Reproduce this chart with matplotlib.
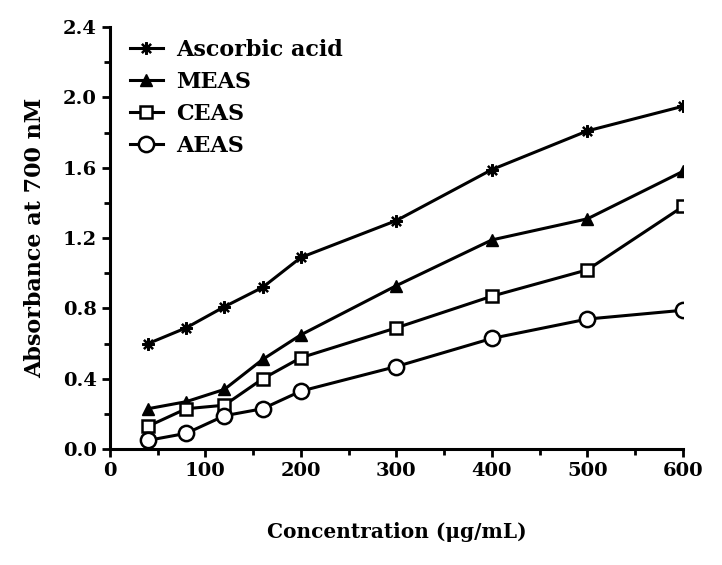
import matplotlib
matplotlib.use("Agg")
import matplotlib.pyplot as plt
from matplotlib.ticker import MultipleLocator

conc = [40, 80, 120, 160, 200, 300, 400, 500, 600]
ascorbic = [0.60, 0.69, 0.81, 0.92, 1.09, 1.30, 1.59, 1.81, 1.95]
meas = [0.23, 0.27, 0.34, 0.51, 0.65, 0.93, 1.19, 1.31, 1.58]
ceas = [0.13, 0.23, 0.25, 0.40, 0.52, 0.69, 0.87, 1.02, 1.38]
aeas = [0.05, 0.09, 0.19, 0.23, 0.33, 0.47, 0.63, 0.74, 0.79]

plt.rcParams['font.family'] = ['DejaVu Serif']
plt.rcParams['font.weight'] = 'bold'

fig = plt.figure(figsize=(7.22, 5.65), dpi=100)
ax = fig.add_axes([0.152, 0.205, 0.794, 0.747])

lw = 2.2
ax.plot(conc, ascorbic, color='black', lw=lw, marker=(8, 2, 0), ms=9, mew=1.6, label='Ascorbic acid')
ax.plot(conc, meas, color='black', lw=lw, marker='^', ms=9, label='MEAS')
ax.plot(conc, ceas, color='black', lw=lw, marker='s', ms=8, mfc='white', mew=1.8, label='CEAS')
ax.plot(conc, aeas, color='black', lw=lw, marker='o', ms=11, mfc='white', mew=1.8, label='AEAS')

ax.set_xlim(0, 600)
ax.set_ylim(0, 2.4)
ax.xaxis.set_major_locator(MultipleLocator(100))
ax.xaxis.set_minor_locator(MultipleLocator(50))
ax.yaxis.set_major_locator(MultipleLocator(0.4))
ax.yaxis.set_minor_locator(MultipleLocator(0.2))
ax.yaxis.set_major_formatter(matplotlib.ticker.FormatStrFormatter('%.1f'))

for s in ['top', 'right']:
    ax.spines[s].set_visible(False)
for s in ['left', 'bottom']:
    ax.spines[s].set_linewidth(2.2)
ax.tick_params(which='major', length=6, width=2, labelsize=14)
ax.tick_params(which='minor', length=4, width=2)
for lab in ax.get_xticklabels() + ax.get_yticklabels():
    lab.set_fontweight('bold')

ax.set_xlabel('Concentration (μg/mL)', fontsize=14.5, fontweight='bold', labelpad=30)
ax.set_ylabel('Absorbance at 700 nM', fontsize=16, fontweight='bold', labelpad=12)

leg = ax.legend(loc='upper left', bbox_to_anchor=(0.0, 1.02), frameon=False,
                handlelength=1.5, handletextpad=0.6, labelspacing=0.45,
                prop={'weight': 'bold', 'size': 16})

fig.savefig('out.png', dpi=100)
